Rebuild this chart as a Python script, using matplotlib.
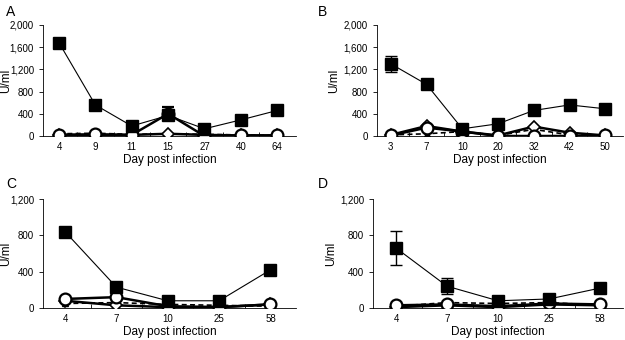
import matplotlib.pyplot as plt
import numpy as np

plt.rcParams['font.family'] = ['Liberation Sans', 'DejaVu Sans']

# Panel A
days_a = ['4', '9', '11', '15', '27', '40', '64']
sq_a = [1680, 560, 180, 370, 130, 290, 460]
sq_a_err = [0, 0, 0, 0, 0, 0, 0]
ci_a = [20, 30, 20, 400, 0, 10, 10]
ci_a_err = [0, 0, 0, 120, 0, 0, 0]
di_a = [20, 20, 20, 40, 20, 10, 10]
tr_a = [40, 50, 30, 40, 30, 20, 10]

# Panel B
days_b = ['3', '7', '10', '20', '32', '42', '50']
sq_b = [1300, 930, 130, 220, 460, 560, 490]
sq_b_err = [145, 90, 0, 0, 0, 0, 0]
ci_b = [10, 150, 80, 0, 0, 0, 10]
ci_b_err = [0, 0, 0, 0, 0, 0, 0]
di_b = [20, 180, 80, 10, 170, 60, 10]
tr_b = [20, 40, 80, 10, 120, 20, 10]

# Panel C
days_c = ['4', '7', '10', '25', '58']
sq_c = [840, 230, 80, 80, 420]
sq_c_err = [0, 0, 0, 0, 0]
ci_c = [100, 120, 20, 10, 40]
ci_c_err = [0, 0, 0, 0, 0]
di_c = [80, 30, 10, 10, 40]
tr_c = [50, 60, 40, 30, 20]

# Panel D
days_d = ['4', '7', '10', '25', '58']
sq_d = [660, 240, 80, 100, 220]
sq_d_err = [185, 90, 0, 0, 0]
ci_d = [30, 40, 20, 50, 40]
ci_d_err = [0, 0, 0, 0, 0]
di_d = [10, 30, 10, 40, 30]
tr_d = [20, 60, 50, 60, 30]

fig = plt.figure(figsize=(6.25, 3.4), dpi=100)

# name, axes rect, data..., xlim, ymax, letter pos, ylabel x (axes coords)
panels = [
    ('A', [0.0688, 0.60, 0.405, 0.3265], days_a, sq_a, sq_a_err, ci_a, ci_a_err, di_a, tr_a,
     (-0.44, 6.52), 2000, (0.010, 0.985), -0.12),
    ('B', [0.603, 0.60, 0.394, 0.3265], days_b, sq_b, sq_b_err, ci_b, ci_b_err, di_b, tr_b,
     (-0.39, 6.5), 2000, (0.508, 0.985), -0.15),
    ('C', [0.0688, 0.094, 0.405, 0.3206], days_c, sq_c, sq_c_err, ci_c, ci_c_err, di_c, tr_c,
     (-0.43, 4.5), 1200, (0.010, 0.48), -0.12),
    ('D', [0.597, 0.094, 0.40, 0.3206], days_d, sq_d, sq_d_err, ci_d, ci_d_err, di_d, tr_d,
     (-0.45, 4.45), 1200, (0.508, 0.48), -0.145),
]

for name, rect, days, sq, sq_err, ci, ci_err, di, tr, xlim, ymax, lpos, ylx in panels:
    ax = fig.add_axes(rect)
    x = np.arange(len(days))
    ax.plot(x, tr, color='black', lw=1.2, ls=(0, (3, 2)), marker='^', ms=5,
            mfc='black', mec='black', zorder=2)
    ax.plot(x, di, color='black', lw=1.8, marker='D', ms=6,
            mfc='white', mec='black', mew=1.2, zorder=3)
    ax.errorbar(x, ci, yerr=[np.zeros(len(ci)), ci_err], color='black', lw=1.8,
                marker='o', ms=8.5, mfc='white', mec='black', mew=1.6,
                capsize=4, elinewidth=1, zorder=4)
    ax.errorbar(x, sq, yerr=sq_err, color='black', lw=0.8, marker='s', ms=9,
                mfc='black', mec='black', capsize=4, elinewidth=1, zorder=5)
    ax.set_xlim(*xlim)
    ax.set_ylim(0, ymax)
    ax.set_xticks(x)
    ax.set_xticklabels(days)
    ax.set_xticks(x[:-1] + 0.5, minor=True)
    ax.tick_params(axis='x', which='major', length=0, labelsize=7, pad=4)
    ax.tick_params(axis='x', which='minor', direction='in', length=3, width=0.6)
    yt = np.arange(0, ymax + 1, 400)
    ax.set_yticks(yt)
    ax.set_yticklabels([f'{v:,}' for v in yt])
    ax.tick_params(axis='y', direction='out', length=3, width=0.6, labelsize=7)
    for s in ['top', 'right']:
        ax.spines[s].set_visible(False)
    for s in ['left', 'bottom']:
        ax.spines[s].set_linewidth(0.6)
    ax.set_xlabel('Day post infection', fontsize=8.5, labelpad=2)
    ax.set_ylabel('U/ml', fontsize=8.5)
    ax.yaxis.set_label_coords(ylx, 0.5)
    fig.text(lpos[0], lpos[1], name, fontsize=10, ha='left', va='top')

fig.savefig('out.png', dpi=100)
